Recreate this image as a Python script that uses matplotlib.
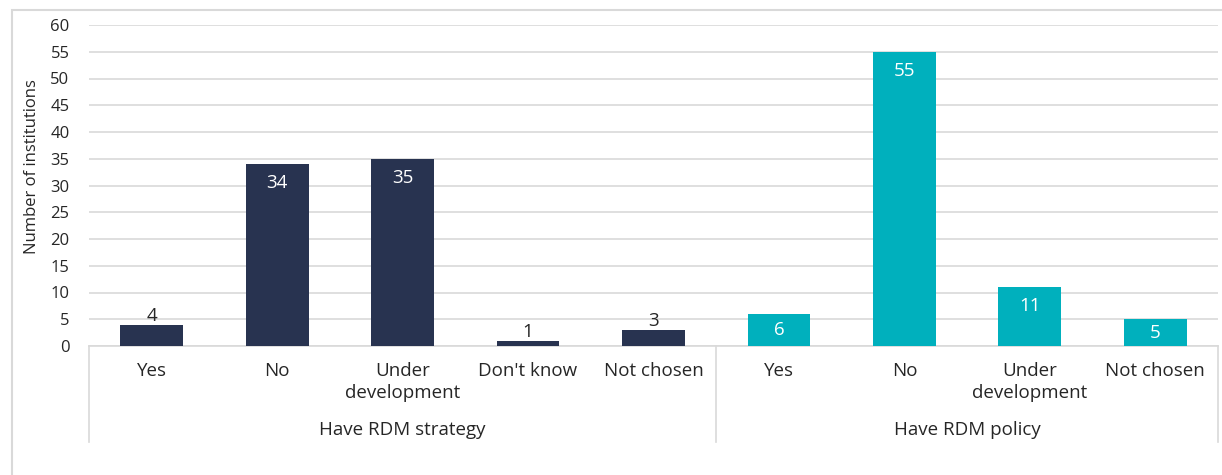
import matplotlib.pyplot as plt
from matplotlib.patches import Rectangle
from matplotlib.lines import Line2D
import matplotlib.transforms as mtransforms

plt.rcParams['font.family'] = ['Open Sans', 'DejaVu Sans']

# Survey responses, grouped by question
groups = ['Have RDM strategy', 'Have RDM policy']
strategy_labels = ['Yes', 'No', 'Under\ndevelopment', "Don't know", 'Not chosen']
strategy_counts = [4, 34, 35, 1, 3]
policy_labels = ['Yes', 'No', 'Under\ndevelopment', 'Not chosen']
policy_counts = [6, 55, 11, 5]
y_ticks = list(range(0, 61, 5))

NAVY = '#283350'
TEAL = '#00B0BD'
GRID = '#d9d9d9'
TEXT = '#262626'

W, H = 1222, 475
fig = plt.figure(figsize=(W / 100, H / 100), dpi=100)
ax = fig.add_axes([89 / W, (H - 346) / H, (1218 - 89) / W, (346 - 25) / H])

# outer chart frame
fig.patches.append(Rectangle((12 / W, -0.05), 1.1, (H - 10) / H + 0.05,
                             transform=fig.transFigure, fill=False,
                             edgecolor=GRID, linewidth=1.5))

labels = strategy_labels + policy_labels
counts = strategy_counts + policy_counts
colors = [NAVY] * len(strategy_counts) + [TEAL] * len(policy_counts)
xs = list(range(len(labels)))

bars = ax.bar(xs, counts, width=0.5, color=colors, zorder=3)

ax.set_xlim(-0.5, len(labels) - 0.5)
ax.set_ylim(0, 60)
ax.set_yticks(y_ticks)
ax.tick_params(axis='y', length=0, labelsize=12, labelcolor=TEXT, pad=14)
ax.tick_params(axis='x', length=0, labelbottom=False)
ax.yaxis.grid(True, color=GRID, linewidth=1.2, zorder=0)
for side in ['top', 'right', 'left']:
    ax.spines[side].set_visible(False)
ax.spines['bottom'].set_color(GRID)
ax.spines['bottom'].set_linewidth(1.2)
ax.set_ylabel('Number of institutions', fontsize=12, color=TEXT)
ax.yaxis.set_label_coords(-0.043, 0.56)

# value labels: inside the bar when there is room, above it otherwise
for bar, val in zip(bars, counts):
    cx = bar.get_x() + bar.get_width() / 2
    if val >= 5:
        ax.text(cx, val - min(3.55, val / 2), str(val), ha='center', va='center',
                color='white', fontsize=13.5, zorder=4)
    else:
        ax.annotate(str(val), (cx, val), xytext=(0, 0), textcoords='offset pixels',
                    ha='center', va='bottom', color=TEXT, fontsize=13.5)

# two-level category axis
trans = mtransforms.blended_transform_factory(ax.transData, ax.transAxes)
for x, lab in zip(xs, labels):
    ax.text(x, -0.05, lab, transform=trans, ha='center', va='top',
            fontsize=13.5, color=TEXT, linespacing=1.3)

n1 = len(strategy_labels)
centers = [(n1 - 1) / 2, n1 + (len(policy_labels) - 1) / 2]
for c, g in zip(centers, groups):
    ax.text(c, -0.235, g, transform=trans, ha='center', va='top',
            fontsize=13.5, color=TEXT)

for xb in [-0.5, n1 - 0.5, len(labels) - 0.5]:
    ax.add_line(Line2D([xb, xb], [0, -0.299], transform=trans, color=GRID,
                       linewidth=1.2, clip_on=False))

fig.savefig('out.png', dpi=100, facecolor='white')
